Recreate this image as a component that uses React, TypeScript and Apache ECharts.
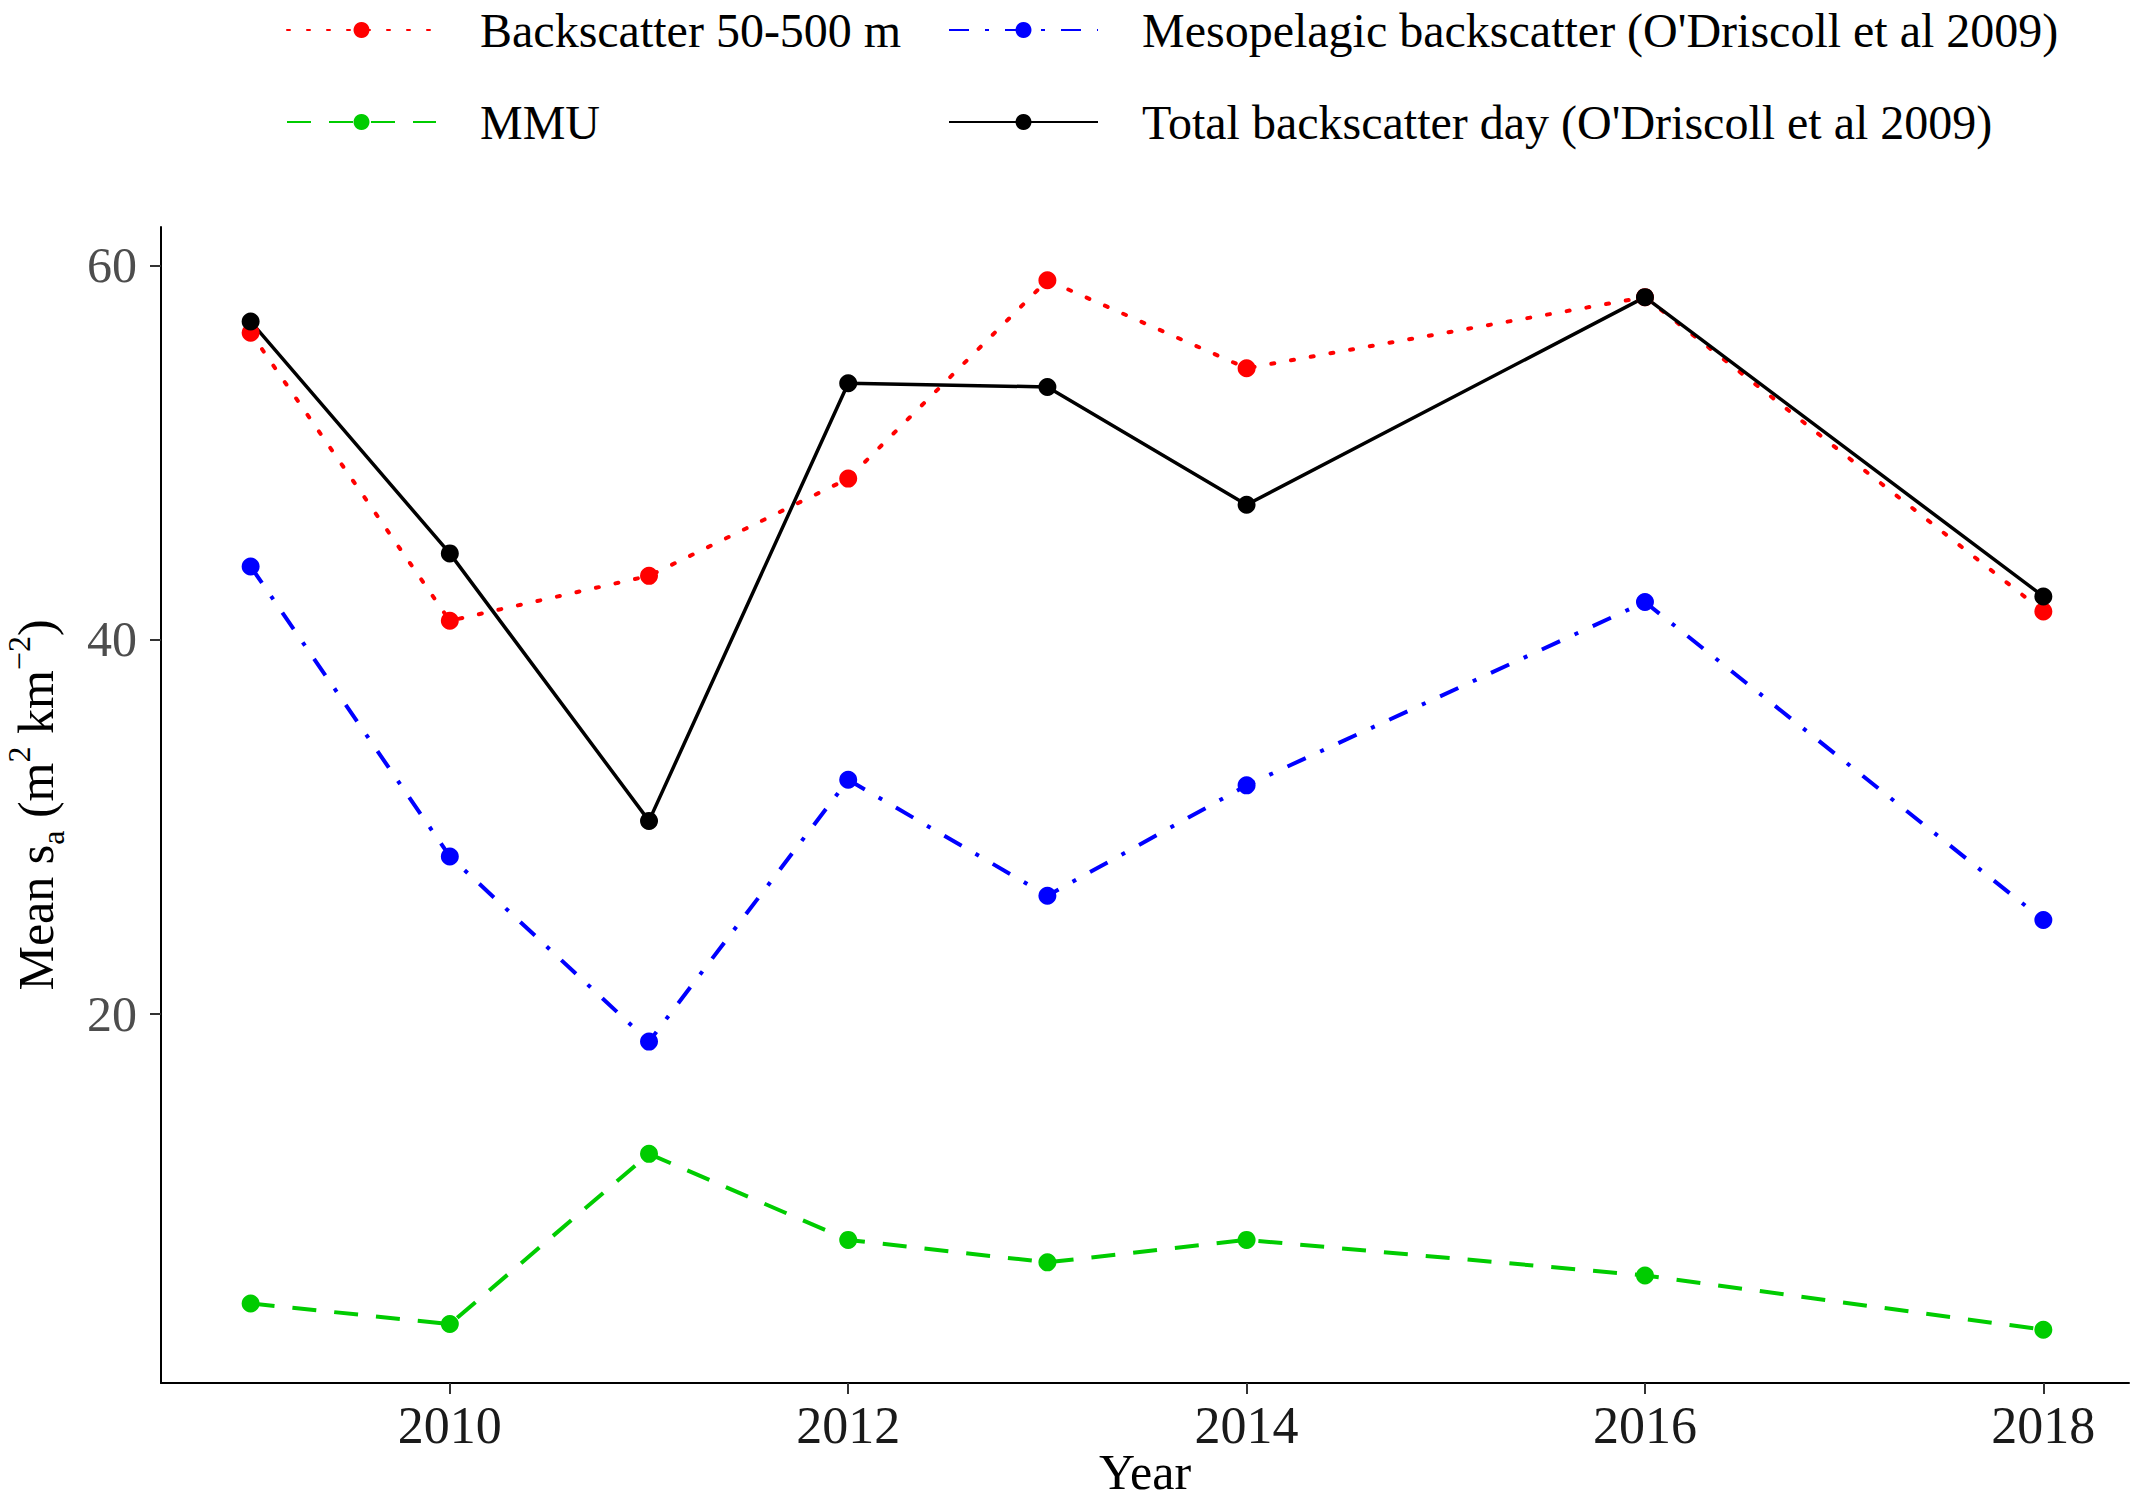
import React, { useEffect, useRef } from "react";
import * as echarts from "echarts";

const years = [2009, 2010, 2011, 2012, 2013, 2014, 2016, 2018];
const backscatter = [56.4, 41.0, 43.4, 48.6, 59.2, 54.5, 58.3, 41.5];
const mesopelagic = [43.9, 28.4, 18.5, 32.5, 26.3, 32.2, 42.0, 25.0];
const mmu = [4.5, 3.4, 12.5, 7.9, 6.7, 7.9, 6.0, 3.1];
const total = [57.0, 44.6, 30.3, 53.7, 53.5, 47.2, 58.3, 42.3];
const xTicks = [2010, 2012, 2014, 2016, 2018];
const yTicks = [20, 40, 60];
const names = [
  "Backscatter 50-500 m",
  "Mesopelagic backscatter (O'Driscoll et al 2009)",
  "MMU",
  "Total backscatter day (O'Driscoll et al 2009)",
];

const FONT = "Liberation Serif";

export default function App() {
  const ref = useRef<HTMLDivElement>(null);
  useEffect(() => {
    const chart = echarts.init(ref.current!, null, { renderer: "svg" });
    const pair = (vals: number[]) => years.map((y, i) => [y, vals[i]]);
    const legendText = {
      fontFamily: FONT,
      fontSize: 48,
      color: "#000",
      lineHeight: 48,
      padding: [0, 0, 0, 39],
    };
    const mkLegend = (name: string, left: number, top: number) => ({
      data: [name],
      left,
      top,
      padding: 0,
      itemWidth: 149,
      itemHeight: 20,
      textStyle: legendText,
    });
    chart.setOption({
      animation: false,
      backgroundColor: "#fff",
      legend: [
        mkLegend(names[0], 286, 6),
        mkLegend(names[1], 948, 6),
        mkLegend(names[2], 286, 98),
        mkLegend(names[3], 948, 98),
      ],
      grid: {
        left: 161,
        right: 4,
        top: 227,
        bottom: 121,
        containLabel: false,
        outerBoundsMode: "none",
      },
      xAxis: {
        type: "value",
        min: 2008.55,
        max: 2018.43,
        name: "Year",
        nameLocation: "middle",
        nameGap: 64,
        nameMoveOverlap: false,
        nameTextStyle: { fontFamily: FONT, fontSize: 50, lineHeight: 50, color: "#000" },
        axisLine: { lineStyle: { color: "#000", width: 2 } },
        axisTick: { customValues: xTicks, length: 11, lineStyle: { color: "#333", width: 2 } },
        axisLabel: {
          customValues: xTicks,
          fontFamily: FONT,
          fontSize: 52,
          lineHeight: 52,
          color: "#1a1a1a",
          margin: 16,
          formatter: (v: number) => String(v),
        },
        splitLine: { show: false },
      },
      yAxis: {
        type: "value",
        min: 0.25,
        max: 62.05,
        name: "{n|Mean s}{sub|a}{n| (m}{sup|2}{n| km}{sup|−2}{n|)}",
        nameLocation: "middle",
        nameGap: 92,
        nameMoveOverlap: false,
        nameTextStyle: {
          fontFamily: FONT,
          color: "#000",
          rich: {
            n: { fontFamily: FONT, fontSize: 50, lineHeight: 66, color: "#000" },
            sub: { fontFamily: FONT, fontSize: 32, lineHeight: 66, verticalAlign: "bottom", color: "#000" },
            sup: { fontFamily: FONT, fontSize: 32, lineHeight: 66, verticalAlign: "top", color: "#000" },
          },
        },
        axisLine: { show: true, lineStyle: { color: "#000", width: 2 } },
        axisTick: { show: true, customValues: yTicks, length: 11, lineStyle: { color: "#333", width: 2 } },
        axisLabel: {
          customValues: yTicks,
          fontFamily: FONT,
          fontSize: 50,
          color: "#4D4D4D",
          margin: 24,
        },
        splitLine: { show: false },
      },
      series: [
        {
          name: names[0],
          type: "line",
          data: pair(backscatter),
          symbol: "circle",
          symbolSize: 18,
          itemStyle: { color: "#FF0000" },
          lineStyle: { color: "#FF0000", width: 4, type: [3, 17], cap: "round" },
        },
        {
          name: names[1],
          type: "line",
          data: pair(mesopelagic),
          symbol: "circle",
          symbolSize: 18,
          itemStyle: { color: "#0000FF" },
          lineStyle: { color: "#0000FF", width: 4, type: [20, 16, 4, 16] },
        },
        {
          name: names[2],
          type: "line",
          data: pair(mmu),
          symbol: "circle",
          symbolSize: 18,
          itemStyle: { color: "#00CC00" },
          lineStyle: { color: "#00CC00", width: 4, type: [24, 18] },
        },
        {
          name: names[3],
          type: "line",
          data: pair(total),
          symbol: "circle",
          symbolSize: 18,
          itemStyle: { color: "#000000" },
          lineStyle: { color: "#000000", width: 3.5 },
        },
      ],
    });
    return () => chart.dispose();
  }, []);
  return (
    <div
      ref={ref}
      style={{ position: "absolute", left: 0, top: 0, width: 2133, height: 1504 }}
    />
  );
}
